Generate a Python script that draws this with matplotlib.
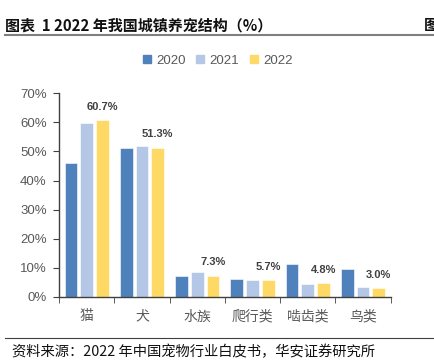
import numpy as np
import matplotlib
matplotlib.use("Agg")
import matplotlib.pyplot as plt
from matplotlib.lines import Line2D

plt.rcParams['font.family'] = ['Noto Sans CJK SC', 'DejaVu Sans']

categories = ["猫", "犬", "水族", "爬行类", "啮齿类", "鸟类"]
years = ["2020", "2021", "2022"]
v2020 = [46.1, 51.1, 7.3, 6.2, 11.2, 9.7]
v2021 = [59.7, 51.9, 8.4, 5.8, 4.6, 3.5]
v2022 = [60.7, 51.3, 7.3, 5.7, 4.8, 3.0]
labels_2022 = ["60.7%", "51.3%", "7.3%", "5.7%", "4.8%", "3.0%"]
colors = ["#4F81BD", "#B4C7E7", "#FFD966"]
latin = ["Liberation Sans", "DejaVu Sans"]

fig = plt.figure(figsize=(4.35, 3.63), dpi=100)
ax = fig.add_axes([0.136, 0.182, 0.762, 0.561])

x = np.arange(len(categories))
offs = [-0.284, 0, 0.284]
for vals, off, c in zip([v2020, v2021, v2022], offs, colors):
    ax.bar(x + off, vals, width=0.23, color=c, edgecolor="white", linewidth=0.4, zorder=2)

for xi, v, lab in zip(x, v2022, labels_2022):
    ax.annotate(lab, (xi + offs[2], v), xytext=(0, 6), textcoords="offset points",
                ha="center", va="bottom", fontsize=8, fontweight="bold",
                color="#404040", family=latin)

ax.set_xlim(-0.5, len(categories) - 0.5)
ax.set_ylim(0, 70)
ax.set_yticks(range(0, 71, 10))
ax.set_yticklabels([f"{t}%" for t in range(0, 71, 10)], family=latin,
                   fontsize=9.5, color="#595959")
ax.set_xticks(x)
ax.set_xticklabels(categories, fontsize=10, color="#595959")
ax.tick_params(axis="x", length=0, pad=9)
ax.set_xticks(np.arange(-0.5, len(categories), 1), minor=True)
ax.tick_params(axis="x", which="minor", length=4, direction="out", color="#404040")
ax.tick_params(axis="y", length=4, direction="out", color="#404040", pad=5)
for s in ["top", "right"]:
    ax.spines[s].set_visible(False)
for s in ["left", "bottom"]:
    ax.spines[s].set_color("#404040")
    ax.spines[s].set_linewidth(1.0)

handles = [Line2D([], [], marker="s", ls="none", color=c, markersize=6) for c in colors]
leg = fig.legend(handles, years, loc="center", bbox_to_anchor=(0.5, 0.833), ncol=3,
                 frameon=False, handlelength=0.7, handletextpad=0.35, columnspacing=0.75,
                 prop={"family": latin, "size": 9.5})
for t in leg.get_texts():
    t.set_color("#595959")

fig.text(0.012, 0.931, "图表  1 2022 年我国城镇养宠结构（%）", fontsize=10.8, fontweight="bold",
         va="center", ha="left", color="#111111")
fig.text(0.975, 0.931, "图", fontsize=10.8, fontweight="bold", va="center", ha="left", color="#111111")
fig.add_artist(Line2D([0.012, 1.0], [0.903, 0.903], color="#7f7f7f", lw=1.5))
fig.add_artist(Line2D([0.012, 1.0], [0.070, 0.070], color="#404040", lw=0.8))
fig.text(0.028, 0.031, "资料来源：2022 年中国宠物行业白皮书，华安证券研究所", fontsize=10.3,
         va="center", ha="left", color="#111111")

fig.savefig("out.png", dpi=100)
